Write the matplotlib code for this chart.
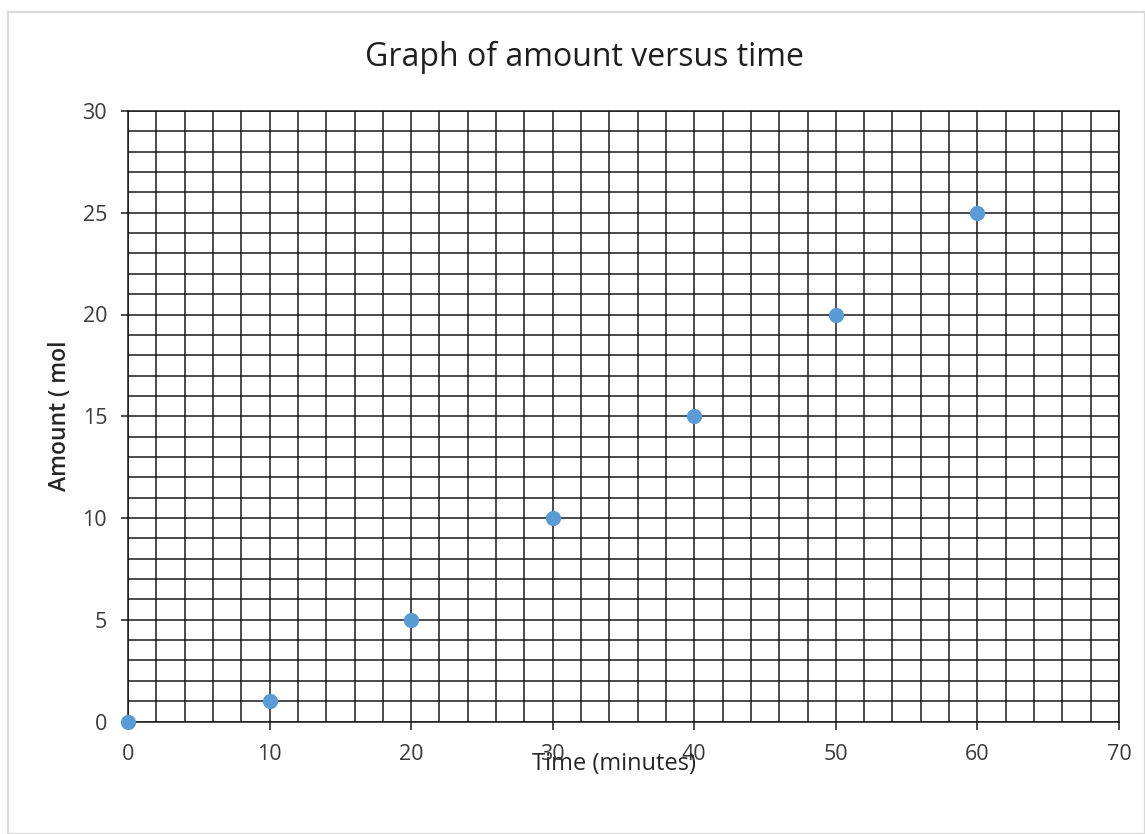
import matplotlib
matplotlib.use("Agg")
import matplotlib.pyplot as plt
from matplotlib.patches import Rectangle
from matplotlib.ticker import MultipleLocator

plt.rcParams['font.family'] = ['Open Sans', 'DejaVu Sans']

# Measurements
time_min = [0, 10, 20, 30, 40, 50, 60]
amount_mol = [0, 1, 5, 10, 15, 20, 25]

title = "Graph of amount versus time"
x_label = "Time (minutes)"
y_label = "Amount ( mol"

W, H = 1145, 834
fig = plt.figure(figsize=(W / 100, H / 100), dpi=100)

def px(x, y):
    return x / W, 1 - y / H

# light chart-area border
fig.patches.append(Rectangle(px(8, 834), (W - 8) / W, (834 - 12) / H,
                             transform=fig.transFigure, fill=False,
                             edgecolor='#d9d9d9', linewidth=1.6))

left, right, top, bottom = 128, 1119, 111, 721.5
ax = fig.add_axes([left / W, 1 - bottom / H, (right - left) / W, (bottom - top) / H])

text_col = '#3a3a3a'
grid_col = '#1a1a1a'

ax.set_xlim(0, 70)
ax.set_ylim(0, 30)
ax.xaxis.set_major_locator(MultipleLocator(10))
ax.xaxis.set_minor_locator(MultipleLocator(2))
ax.yaxis.set_major_locator(MultipleLocator(5))
ax.yaxis.set_minor_locator(MultipleLocator(1))

ax.grid(True, which='both', color=grid_col, linewidth=1.1)
ax.set_axisbelow(True)
for s in ax.spines.values():
    s.set_color(grid_col)
    s.set_linewidth(1.1)

ax.tick_params(axis='both', which='minor', length=0)
ax.tick_params(axis='y', which='major', length=5, width=1.1, color=grid_col,
               pad=10, labelsize=15.5, labelcolor=text_col)
ax.tick_params(axis='x', which='major', length=6, width=1.1, color=grid_col,
               pad=10, labelsize=15.5, labelcolor=text_col)

ax.plot(time_min, amount_mol, linestyle='none', marker='o', markersize=11,
        color='#5b9bd5', markeredgewidth=0, clip_on=False, zorder=5)

fig.text(*px(584, 57), title, ha='center', va='center', fontsize=23,
         color='#1f1f1f')
fig.text(*px(614, 764), x_label, ha='center', va='center', fontsize=17,
         color='#262626')
fig.text(*px(60, 416), y_label, ha='center', va='center', fontsize=16.5,
         rotation=90, color='#262626', fontweight='semibold')

fig.savefig("out.png", dpi=100)
